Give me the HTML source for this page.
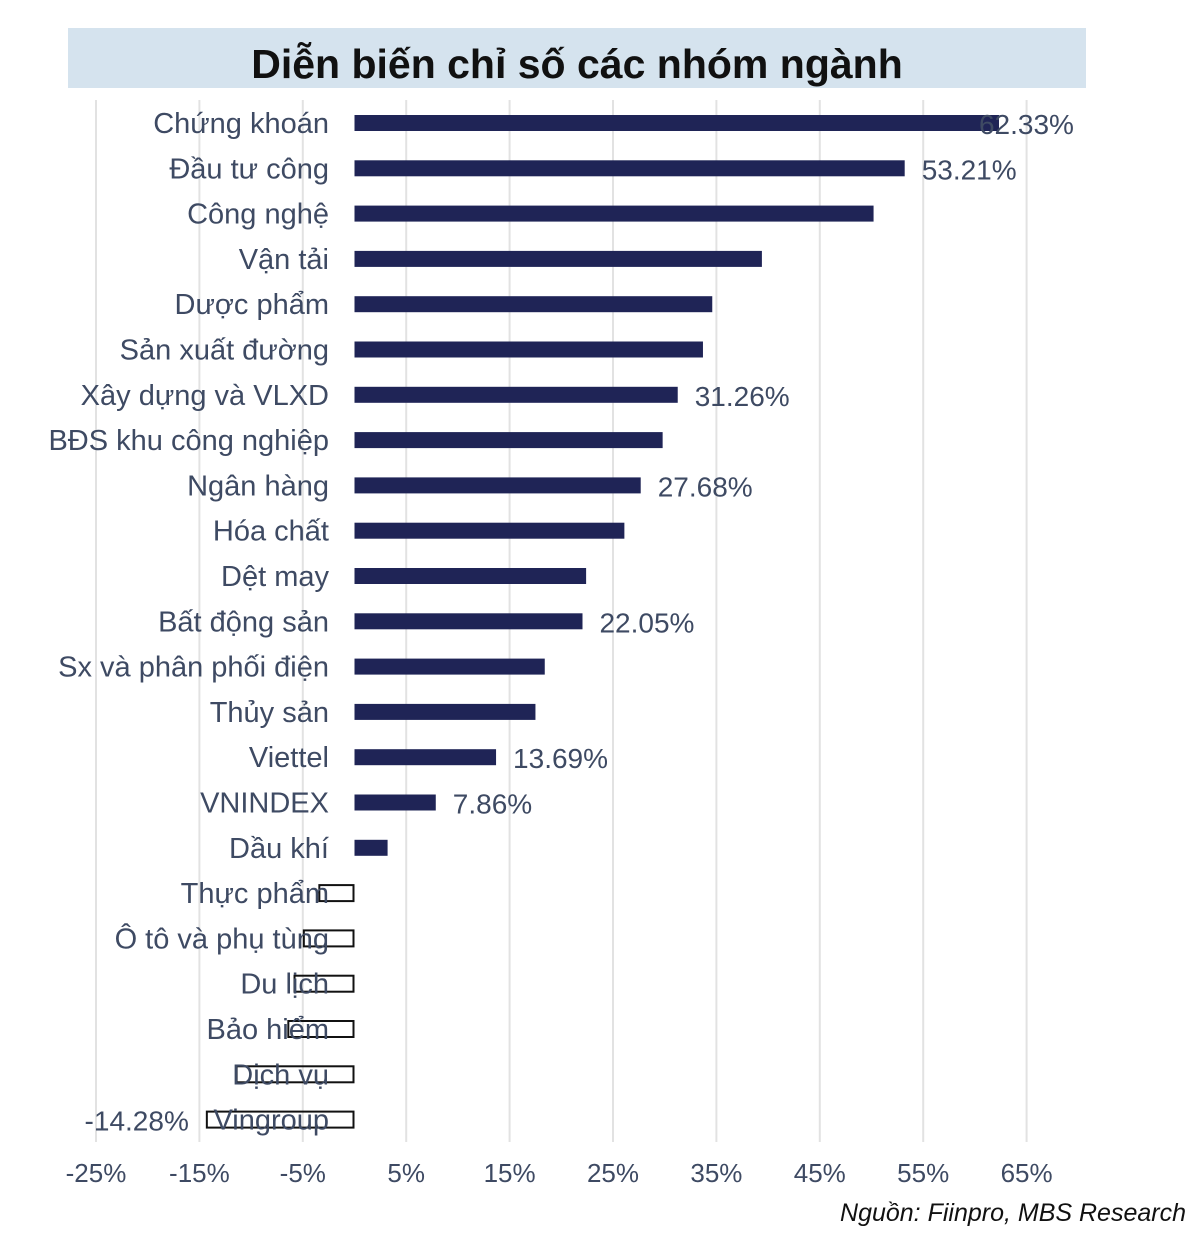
<!DOCTYPE html>
<html><head><meta charset="utf-8"><style>
body{margin:0;background:#fff;}
svg{display:block;font-family:"Liberation Sans",sans-serif;}
</style></head><body>
<svg width="1200" height="1243" viewBox="0 0 1200 1243">
<rect x="68" y="28" width="1018" height="60" fill="#d5e3ee"/>
<text x="577" y="78" text-anchor="middle" font-size="41" font-weight="bold" fill="#111">Diễn biến chỉ số các nhóm ngành</text>
<g id="grid"></g><g id="bars"></g><g id="labels"></g><g id="ticks"></g>
<text x="1186" y="1221" text-anchor="end" font-size="25" font-style="italic" fill="#111">Nguồn: Fiinpro, MBS Research</text>
</svg>
<script>
const categories=["Chứng khoán","Đầu tư công","Công nghệ","Vận tải","Dược phẩm","Sản xuất đường","Xây dựng và VLXD","BĐS khu công nghiệp","Ngân hàng","Hóa chất","Dệt may","Bất động sản","Sx và phân phối điện","Thủy sản","Viettel","VNINDEX","Dầu khí","Thực phẩm","Ô tô và phụ tùng","Du lịch","Bảo hiểm","Dịch vụ","Vingroup"];
const values=[62.33,53.21,50.2,39.4,34.6,33.7,31.26,29.8,27.68,26.1,22.4,22.05,18.4,17.5,13.69,7.86,3.2,-3.4,-4.9,-5.8,-6.4,-11.4,-14.28];
const shownLabels=[true,true,false,false,false,false,true,false,true,false,false,true,false,false,true,true,false,false,false,false,false,false,true];
const tickValues=[-25,-15,-5,5,15,25,35,45,55,65];
const NS="http://www.w3.org/2000/svg";
function x(v){return 354.5+v*10.34;}
function y(i){return 123+i*45.3;}
function mk(tag,attrs,parent,txt){const e=document.createElementNS(NS,tag);for(const k in attrs)e.setAttribute(k,attrs[k]);if(txt!==undefined)e.textContent=txt;document.getElementById(parent).appendChild(e);return e;}
tickValues.forEach(t=>{
 const g=mk('line',{x1:x(t),x2:x(t),y1:100,y2:1142,stroke:'#e2e2e2','stroke-width':2},'grid');
 
 
 const tx=mk('text',{x:x(t),y:1182,'text-anchor':'middle','font-size':26,fill:'#3e4a63'},'ticks',t+'%');
 
 
});
categories.forEach((c,i)=>{
 const v=values[i];const cy=y(i);
 const lb=mk('text',{x:329,y:cy+10,'text-anchor':'end','font-size':29,fill:'#3e4a63'},'labels',c);
 
 
 let b;
 if(v>=0){b=mk('rect',{x:x(0),y:cy-8,width:x(v)-x(0),height:16,fill:'#1f2456'},'bars');}
 else{b=mk('rect',{x:x(v),y:cy-8,width:x(0)-x(v)-1,height:16,fill:'none',stroke:'#111','stroke-width':2},'bars');}
 
 
 if(shownLabels[i]){
  const s=v.toFixed(2)+'%';
  const t=v>=0?mk('text',{x:x(v)+(i===0?-20:17),y:cy+11,'font-size':28,fill:'#3e4a63'},'bars',s):mk('text',{x:x(v)-18,y:cy+11,'text-anchor':'end','font-size':28,fill:'#3e4a63'},'bars',s);
  
  
 }
});
</script>
</body></html>
